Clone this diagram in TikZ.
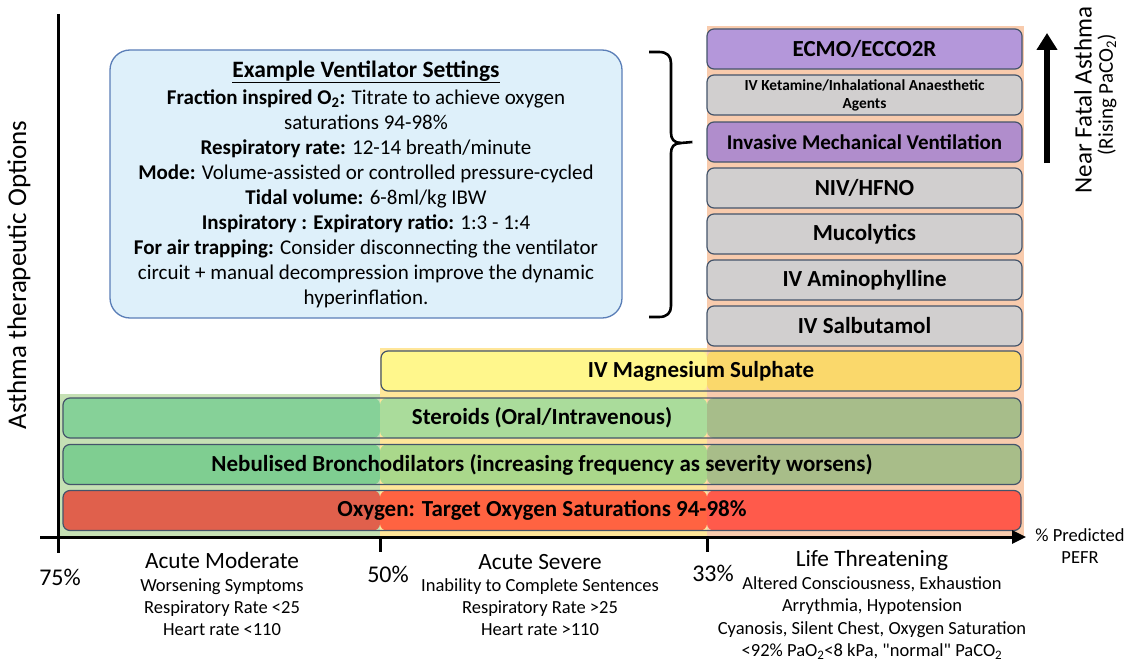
\documentclass[tikz,border=0pt]{standalone}
\usepackage{fontspec}
\setmainfont{Carlito}
\usepackage{tikz}
\usetikzlibrary{positioning,arrows.meta,calc}
\newcommand{\fs}[2]{\fontsize{#1}{#2}\selectfont}
\newcommand{\Otwo}{O\textsubscript{2}}
\definecolor{zoneG}{HTML}{C5E0B4}
\definecolor{zoneY}{HTML}{FFE699}
\definecolor{zoneS}{HTML}{F8CBAD}
\definecolor{oxyG}{HTML}{E0604C}
\definecolor{oxyY}{HTML}{FF6341}
\definecolor{oxyS}{HTML}{FF5A4B}
\definecolor{nebG}{HTML}{7FCE91}
\definecolor{nebY}{HTML}{AAD88B}
\definecolor{nebS}{HTML}{A8BD89}
\definecolor{steG}{HTML}{86D198}
\definecolor{steY}{HTML}{AADC9B}
\definecolor{steS}{HTML}{A7BD8A}
\definecolor{magY}{HTML}{FFF78C}
\definecolor{magS}{HTML}{FAD86B}
\definecolor{greybox}{HTML}{D1CFCF}
\definecolor{purpA}{HTML}{B497DA}
\definecolor{purpB}{HTML}{B08DCC}
\definecolor{barline}{HTML}{44546A}
\definecolor{ventfill}{HTML}{DEF0FA}
\definecolor{ventline}{HTML}{5A7EB7}

\begin{document}
\begin{tikzpicture}[x=1pt, y=-1pt,
  bar/.style={draw=barline, line width=1.2pt, rounded corners=7pt,
              minimum height=40pt, inner sep=0pt, align=center,
              font=\bfseries\fs{23}{26}},
  tri/.style n args={3}{bar, path picture={
      \fill[#1] (path picture bounding box.south west) rectangle (zA |- path picture bounding box.north);
      \fill[#2] (zA |- path picture bounding box.south) rectangle (zB |- path picture bounding box.north);
      \fill[#3] (zB |- path picture bounding box.south) rectangle (path picture bounding box.north east);}},
  rbox/.style={bar, minimum width=315pt, fill=greybox},
  pbox/.style={rbox, fill=#1},
  vent/.style={draw=ventline, fill=ventfill, line width=1.3pt, rounded corners=20pt,
               minimum width=512pt, minimum height=268pt, align=center, font=\fs{21}{25}},
  axisline/.style={line width=3pt},
  catlbl/.style={font=\fs{23.3}{26}},
  sublbl/.style={font=\fs{18.5}{22.3}, align=center},
  pctlbl/.style={font=\fs{24}{28}},
  brc/.style={line width=2.6pt, line join=round}
]
\useasboundingbox (0,0) rectangle (1129,661);

% Zone limits
\coordinate (zA) at (380,537);
\coordinate (zB) at (707,537);

% Severity zones
\fill[zoneG] (58,394) rectangle (zA);
\fill[zoneY] (380,348) rectangle (zB);
\fill[zoneS] (707,26) rectangle (1024,537);

% Bars
\node[tri={oxyG}{oxyY}{oxyS}, minimum width=958pt] (oxy) at (542,510.5) {Oxygen: Target Oxygen Saturations 94-98\%};
\node[tri={nebG}{nebY}{nebS}, minimum width=958pt] (neb) at (542,464.5) {Nebulised Bronchodilators (increasing frequency as severity worsens)};
\node[tri={steG}{steY}{steS}, minimum width=958pt] (ste) at (542,418) {Steroids (Oral/Intravenous)};
\node[tri={magY}{magY}{magS}, minimum width=640pt] (mag) at (701,371) {IV Magnesium Sulphate};

% Life threatening column
\node[rbox] (salb) at (864.5,326) {IV Salbutamol};
\node[rbox] (amin) at (864.5,280) {IV Aminophylline};
\node[rbox] (muco) at (864.5,234) {Mucolytics};
\node[rbox] (niv) at (864.5,188) {NIV/HFNO};
\node[pbox=purpB, font=\bfseries\fs{21}{24}] (inv) at (864.5,142) {Invasive Mechanical Ventilation};
\node[rbox, font=\bfseries\fs{15.4}{18}] (ket) at (864.5,95) {IV Ketamine/Inhalational Anaesthetic\\Agents};
\node[pbox=purpA] (ecmo) at (864.5,49) {ECMO/ECCO2R};

% Ventilator settings
\node[vent] (vent) at (366,184) {%
  {\bfseries\fs{23.5}{27}\underline{Example Ventilator Settings}}\\[2pt]
  \textbf{Fraction inspired \Otwo:} Titrate to achieve oxygen\\
  saturations 94-98\%\\
  \textbf{Respiratory rate:} 12-14 breath/minute\\
  \textbf{Mode:} Volume-assisted or controlled pressure-cycled\\
  \textbf{Tidal volume:} 6-8ml/kg IBW\\
  \textbf{Inspiratory : Expiratory ratio:} 1:3 - 1:4\\
  \textbf{For air trapping:} Consider disconnecting the ventilator\\
  circuit + manual decompression improve the dynamic\\
  hyperinflation.};

% Brace
\coordinate (tip) at ($(inv.west)+(-14,0)$);
\draw[brc] (649,52) -- (659,52) .. controls (667,52) and (671,56) .. (671,63) -- (671,133)
  .. controls (671,139) and (674,143) .. (681,143) -- (tip);
\draw[brc] (681,143) .. controls (674,143) and (671,147) .. (671,153) -- (671,306)
  .. controls (671,313) and (667,317) .. (659,317) -- (649,317);

% Axes
\draw[axisline, -{Triangle[length=14pt,width=13pt]}] (40,537) -- (1026,537);
\draw[axisline] (58,14) -- (58,553);
\draw[axisline] (zA) -- (380,552);
\draw[axisline] (zB) -- (707,552);

% Near fatal arrow
\draw[line width=6pt, -{Triangle[length=17pt,width=20pt]}] (1047,163) -- (1047,33);
\node[rotate=90, font=\fs{25}{28}] (nfa) at (1083,100) {Near Fatal Asthma};
\node[rotate=90, font=\fs{21}{24}] (rise) at (1107,95) {(Rising PaCO\textsubscript{2})};

% Axis labels
\node[rotate=90, font=\fs{27}{30}] (ylab) at (19,275) {Asthma therapeutic Options};
\node[align=center, font=\fs{18.5}{22}] (pefr) at (1080,546) {\% Predicted\\PEFR};

% Percentages
\node[pctlbl] (p75) at (60,577) {75\%};
\node[pctlbl] (p50) at (388,574) {50\%};
\node[pctlbl] (p33) at (713,573) {33\%};

% Severity categories
\node[catlbl] (mod) at (222,560) {Acute Moderate};
\node[sublbl] (modtxt) at (222,607) {Worsening Symptoms\\Respiratory Rate <25\\Heart rate <110};
\node[catlbl] (sev) at (540,562) {Acute Severe};
\node[sublbl] (sevtxt) at (540,607) {Inability to Complete Sentences\\Respiratory Rate >25\\Heart rate >110};
\node[catlbl] (life) at (872,560) {Life Threatening};
\node[sublbl] (lifetxt) at (872,618) {Altered Consciousness, Exhaustion\\Arrythmia, Hypotension\\Cyanosis, Silent Chest, Oxygen Saturation\\<92\% Pa\Otwo<8 kPa, \textquotedbl normal\textquotedbl{} PaCO\textsubscript{2}};

\end{tikzpicture}
\end{document}
